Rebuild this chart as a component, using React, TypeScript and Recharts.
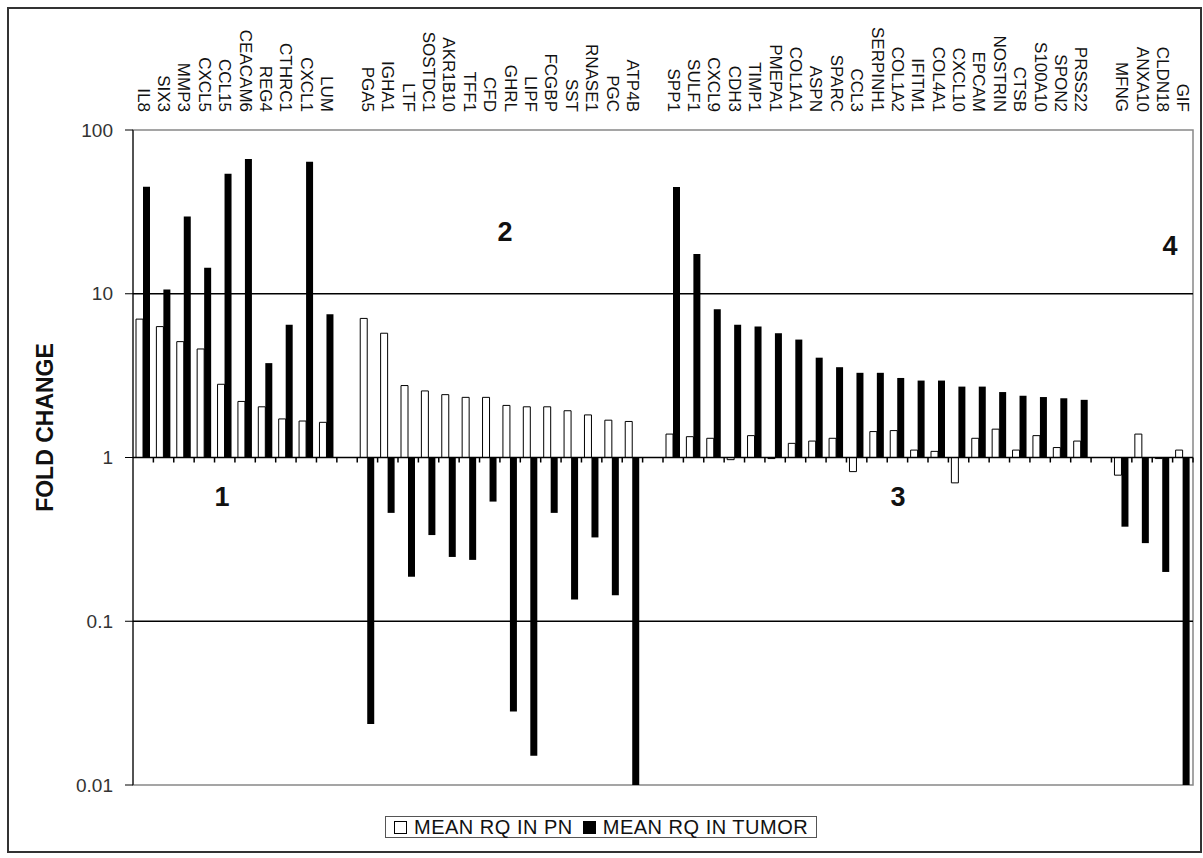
import React from "react";
import { BarChart, Bar, XAxis, YAxis, ReferenceLine, ReferenceArea } from "recharts";

// categories ("" = empty slot between the gene groups)
const genes = [
  "IL8", "SIX3", "MMP3", "CXCL5", "CCL15", "CEACAM6", "REG4", "CTHRC1", "CXCL1", "LUM",
  "",
  "PGA5", "IGHA1", "LTF", "SOSTDC1", "AKR1B10", "TFF1", "CFD", "GHRL", "LIPF", "FCGBP", "SST", "RNASE1", "PGC", "ATP4B",
  "",
  "SPP1", "SULF1", "CXCL9", "CDH3", "TIMP1", "PMEPA1", "COL1A1", "ASPN", "SPARC", "CCL3", "SERPINH1", "COL1A2",
  "IFITM1", "COL4A1", "CXCL10", "EPCAM", "NOSTRIN", "CTSB", "S100A10", "SPON2", "PRSS22",
  "",
  "MFNG", "ANXA10", "CLDN18", "GIF",
];

// mean RQ in PN (white bars)
const pnValues = [
  7.0, 6.3, 5.1, 4.6, 2.8, 2.2, 2.04, 1.72, 1.67, 1.64,
  null,
  7.07, 5.74, 2.75, 2.55, 2.42, 2.33, 2.33, 2.08, 2.04, 2.04, 1.93, 1.82, 1.69, 1.66,
  null,
  1.39, 1.34, 1.31, 0.97, 1.36, 0.985, 1.22, 1.26, 1.31, 0.82, 1.44, 1.46,
  1.11, 1.09, 0.7, 1.31, 1.49, 1.11, 1.36, 1.15, 1.26,
  null,
  0.78, 1.39, 0.985, 1.11,
];

// mean RQ in tumor (black bars)
const tumorValues = [
  45, 10.6, 29.6, 14.4, 54, 66.5, 3.77, 6.46, 64, 7.5,
  null,
  0.0236, 0.459, 0.187, 0.336, 0.247, 0.237, 0.538, 0.0281, 0.0151, 0.459, 0.136, 0.325, 0.144, 0.0095,
  null,
  44.8, 17.5, 8.03, 6.46, 6.3, 5.74, 5.25, 4.07, 3.56, 3.29, 3.29, 3.06,
  2.95, 2.95, 2.71, 2.71, 2.51, 2.38, 2.34, 2.3, 2.25,
  null,
  0.378, 0.3, 0.2, 0.0095,
];

const yTicks = [0.01, 0.1, 1, 10, 100];
const groupNames = ["1", "2", "3", "4"];

const FONT = "'Liberation Sans', Arial, sans-serif";

const data = genes.map((gene, i) => ({ gene, pn: pnValues[i], tumor: tumorValues[i] }));

// bars hang from 1 (the category axis crosses there)
const fromOne = (key: "pn" | "tumor") => (d: any) => (d[key] == null ? null : [1, d[key]]);

const GeneTick = ({ x, y, payload }: any) => (
  <text
    x={x}
    y={y}
    transform={`rotate(90, ${x}, ${y})`}
    textAnchor="end"
    dominantBaseline="central"
    fontSize={17}
    fontFamily={FONT}
    fill="#111"
  >
    {payload.value}
  </text>
);

// axis line at 1 with tick marks between categories
const AxisAtOne = (props: any) => {
  const { x1, x2, y1 } = props;
  const step = (x2 - x1) / genes.length;
  return (
    <g>
      <line x1={x1} y1={y1} x2={x2} y2={y1} stroke="#000" strokeWidth={1.5} />
      {genes.map((_, i) => (
        <line
          key={i}
          x1={x1 + step * (i + 1)}
          x2={x1 + step * (i + 1)}
          y1={y1}
          y2={y1 + 5}
          stroke="#000"
          strokeWidth={1.5}
        />
      ))}
    </g>
  );
};

const FoldLabel = ({ viewBox }: any) => {
  const cx = viewBox.x - 28;
  const cy = viewBox.y + viewBox.height / 2 - 30;
  return (
    <text
      x={cx}
      y={cy}
      transform={`rotate(-90, ${cx}, ${cy})`}
      textAnchor="middle"
      dominantBaseline="central"
      fontSize={23}
      fontWeight="bold"
      fontFamily={FONT}
      fill="#111"
    >
      FOLD CHANGE
    </text>
  );
};

const groupPos = [
  { left: 222, top: 497 },
  { left: 505, top: 232 },
  { left: 898, top: 497 },
  { left: 1170, top: 246 },
];

const swatch = (fill: string) => ({
  display: "inline-block",
  flexShrink: 0,
  boxSizing: "border-box" as const,
  width: 13,
  height: 13,
  border: "1px solid #000",
  background: fill,
});

export default function App() {
  return (
    <div style={{ position: "absolute", left: 0, top: 0, width: 1203, height: 858, background: "#fff" }}>
      <div
        style={{
          position: "absolute",
          left: 7,
          top: 7,
          width: 1191,
          height: 842,
          border: "2px solid #333",
        }}
      />
      <div style={{ position: "absolute", left: 0, top: 0 }}>
        <BarChart
          width={1203}
          height={858}
          data={data}
          margin={{ top: 20, right: 10, bottom: 73, left: 73 }}
          barGap={0}
          barSize={7}
        >
          <ReferenceArea y1={0.01} y2={100} fill="none" stroke="#888" strokeWidth={1.5} />
          <ReferenceLine y={10} stroke="#000" strokeWidth={1.5} />
          <ReferenceLine y={0.1} stroke="#000" strokeWidth={1.5} />
          <XAxis
            dataKey="gene"
            orientation="top"
            height={110}
            interval={0}
            tickLine={false}
            axisLine={false}
            tickSize={0}
            tickMargin={18}
            tick={<GeneTick />}
          />
          <YAxis
            type="number"
            scale="log"
            domain={[0.01, 100]}
            ticks={yTicks}
            allowDataOverflow
            width={60}
            tickSize={8}
            tickMargin={12}
            stroke="#000"
            tickFormatter={(v) => String(v)}
            tick={{ fontSize: 19, fill: "#333", fontFamily: FONT }}
            label={<FoldLabel />}
          />
          <Bar
            dataKey={fromOne("pn")}
            fill="#fff"
            stroke="#000"
            strokeWidth={1}
            isAnimationActive={false}
          />
          <Bar dataKey={fromOne("tumor")} fill="#000" isAnimationActive={false} />
          <ReferenceLine y={1} shape={<AxisAtOne />} />
        </BarChart>
      </div>
      {groupNames.map((g, i) => (
        <div
          key={g}
          style={{
            position: "absolute",
            left: groupPos[i].left,
            top: groupPos[i].top,
            transform: "translate(-50%, -50%)",
            fontFamily: FONT,
            fontWeight: "bold",
            fontSize: 27,
            color: "#111",
          }}
        >
          {g}
        </div>
      ))}
      <div
        style={{
          position: "absolute",
          left: 385,
          top: 816,
          width: 430,
          height: 20,
          border: "1px solid #555",
          display: "flex",
          alignItems: "center",
          fontFamily: FONT,
          fontSize: 20,
          letterSpacing: 0.5,
          color: "#111",
          lineHeight: "20px",
          whiteSpace: "nowrap",
        }}
      >
        <span style={{ ...swatch("#fff"), marginLeft: 8, marginRight: 7 }} />
        <span>MEAN RQ IN PN</span>
        <span style={{ ...swatch("#000"), marginLeft: 10, marginRight: 7 }} />
        <span>MEAN RQ IN TUMOR</span>
      </div>
    </div>
  );
}
